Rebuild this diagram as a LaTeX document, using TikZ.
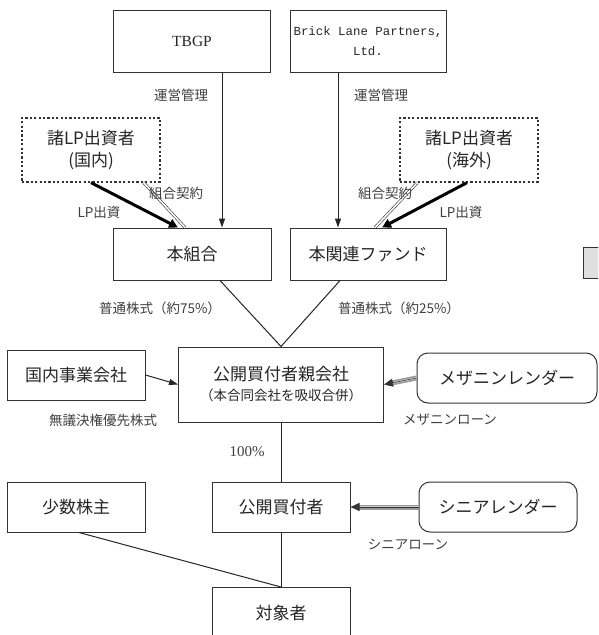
\documentclass[tikz,border=0pt]{standalone}
\usepackage{fontspec}
\setmainfont{Liberation Serif}
\newfontfamily\jp{Noto Sans CJK JP}
\newfontfamily\monofnt{Liberation Mono}
\usetikzlibrary{arrows.meta,calc}
\tikzset{
  box/.style={draw=black!80, line width=1pt, inner sep=0pt, align=center, text=black!85,
    font=\jp\fontsize{17}{22}\selectfont},
  dbox/.style={box, dash pattern=on 2.2pt off 2.2pt, line width=1.3pt},
  rbox/.style={box, rounded corners=11pt},
  lbl/.style={inner sep=0pt, text=black!75, font=\jp\fontsize{13.5}{16}\selectfont},
  thinarrow/.style={draw=black!85, line width=1pt, -{Triangle[length=9pt,width=6pt]}},
  lparrow/.style={draw=black, line width=3pt, -{Triangle[length=9pt,width=9pt]}},
  contract/.style={draw=black!80, line width=0.6pt, double=white, double distance=1.6pt},
  conn/.style={draw=black!85, line width=1pt},
  loanband/.style={draw=gray!80, line width=5pt},
  loaninner/.style={draw=gray!40, line width=2pt},
  loanarrow/.style={draw=black!80, line width=0.6pt, -{Triangle[length=9pt,width=8pt]}},
}
\begin{document}
\begin{tikzpicture}[x=1pt,y=-1pt]
\useasboundingbox (0,0) rectangle (598,635);
\clip (0,0) rectangle (598,635);
\fill[white] (0,0) rectangle (598,635);

% boxes
\node[box, minimum width=157pt, minimum height=62pt, font=\fontsize{15.5}{18}\selectfont] (tbgp) at (192,41) {TBGP};
\node[box, minimum width=156pt, minimum height=62pt, font=\monofnt\fontsize{12.4}{20}\selectfont] (blp) at (368,41) {Brick Lane Partners,\\Ltd.};
\node[dbox, minimum width=138pt, minimum height=64pt] (lpd) at (91,150) {諸LP出資者\\(国内)};
\node[dbox, minimum width=138pt, minimum height=64pt] (lpf) at (469,150) {諸LP出資者\\(海外)};
\node[box, minimum width=158pt, minimum height=52pt] (kumiai) at (192,254) {本組合};
\node[box, minimum width=156pt, minimum height=52pt] (fund) at (368,254) {本関連ファンド};
\node[box, minimum width=205pt, minimum height=75pt] (parent) at (281,384.5) {公開買付者親会社\\[-2pt]{\fontsize{13.5}{16}\selectfont （本合同会社を吸収合併）}};
\node[box, minimum width=138pt, minimum height=50pt] (domestic) at (76,375) {国内事業会社};
\node[rbox, minimum width=180pt, minimum height=50pt] (mezz) at (507,378) {メザニンレンダー};
\node[box, minimum width=138pt, minimum height=50pt] (minority) at (76,507) {少数株主};
\node[box, minimum width=138pt, minimum height=50pt] (buyer) at (281,507) {公開買付者};
\node[rbox, minimum width=158pt, minimum height=50pt] (senior) at (498,507) {シニアレンダー};
\node[box, minimum width=138pt, minimum height=90pt, anchor=north] (target) at (281,587) {\raisebox{40pt}{対象者}};
\node[draw=black!80, line width=1.3pt, fill=gray!25, minimum width=30pt, minimum height=31pt, inner sep=0pt, anchor=north west] (gbox) at (583,247) {};

% management arrows
\draw[thinarrow] ([xshift=30pt]tbgp.south) -- ([xshift=30pt]kumiai.north);
\draw[thinarrow] ([xshift=-30pt]blp.south) -- ([xshift=-30pt]fund.north);

% LP investment and partnership contracts
\draw[contract] ([xshift=-17pt]lpd.south east) -- ([xshift=-7pt]kumiai.north);
\draw[lparrow] (lpd.south) -- ([xshift=-14pt]kumiai.north);
\draw[contract] ([xshift=18pt]lpf.south west) -- ([xshift=7pt]fund.north);
\draw[lparrow] ([xshift=-2pt]lpf.south) -- ([xshift=14pt]fund.north);

% shares
\draw[conn] ([xshift=28pt]kumiai.south) -- (parent.north);
\draw[conn] ([xshift=-28pt]fund.south) -- (parent.north);
\draw[thinarrow] (domestic.east) -- (parent.west);
\draw[conn] (parent.south) -- (buyer.north);
\draw[conn] (buyer.south) -- (target.north);
\draw[conn] ([xshift=3pt]minority.south) -- (target.north);

% loans
\draw[loanband, shorten >=8pt] (mezz.west) -- (parent.east);
\draw[loaninner, shorten >=8pt] (mezz.west) -- (parent.east);
\draw[loanarrow] (mezz.west) -- (parent.east);
\draw[loanband, shorten >=8pt] (senior.west) -- (buyer.east);
\draw[loaninner, shorten >=8pt] (senior.west) -- (buyer.east);
\draw[loanarrow] (senior.west) -- (buyer.east);

% labels
\node[lbl] (l1) at (181,95) {運営管理};
\node[lbl] (l2) at (381,95) {運営管理};
\node[lbl] (l3) at (176,193) {組合契約};
\node[lbl] (l4) at (385,193) {組合契約};
\node[lbl] (l5) at (99,212) {LP出資};
\node[lbl] (l6) at (461,212) {LP出資};
\node[lbl] (l7) at (160,308) {普通株式（約75\%）};
\node[lbl] (l8) at (399,308) {普通株式（約25\%）};
\node[lbl] (l9) at (103,420) {無議決権優先株式};
\node[lbl] (l10) at (450,420) {メザニンローン};
\node[lbl, font=\fontsize{15}{18}\selectfont] (l11) at (247,452) {100\%};
\node[lbl] (l12) at (408,545) {シニアローン};
\end{tikzpicture}
\end{document}
